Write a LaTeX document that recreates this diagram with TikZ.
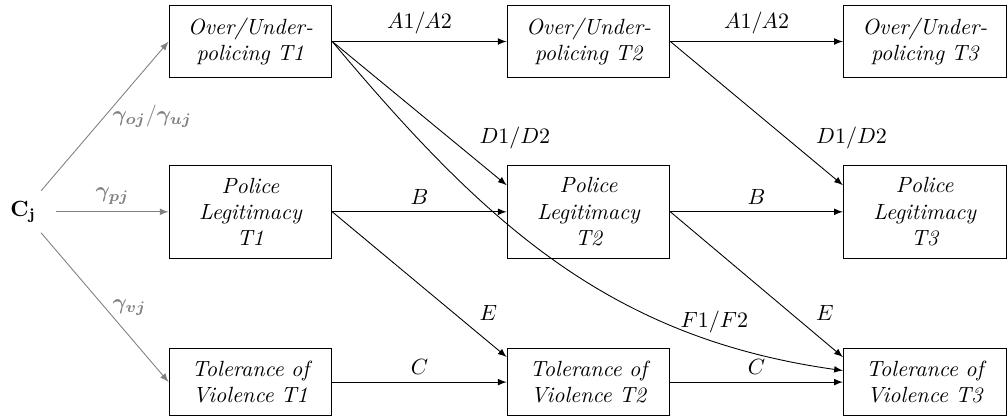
\documentclass[tikz,border=0pt]{standalone}
\usepackage{amsmath}
\usepackage{bm}
\usepackage{tikz}

\tikzset{
  box/.style={draw, align=center, text width=2.2cm, inner sep=2mm, font=\itshape},
  ctrl/.style={->, gray},
  ctrllabel/.style={text=gray},
}

\begin{document}
\begin{tikzpicture}[>=latex]
    \useasboundingbox (0, 0.663) rectangle (16.10, -6.0);

    % controls
    \node[inner xsep=9pt, inner ysep=4.5pt](cj) at (0.37, -2.72){$\mathbf{C_j}$};

    % over/under-policing
    \node[box](o1) at (4.0, 0){Over/Under-\\policing T1};
    \node[box](o2) at (9.4, 0){Over/Under-\\policing T2};
    \node[box](o3) at (14.77, 0){Over/Under-\\policing T3};

    % police legitimacy
    \node[box](p1) at (4.0, -2.72){Police\\Legitimacy\\T1};
    \node[box](p2) at (9.4, -2.72){Police\\Legitimacy\\T2};
    \node[box](p3) at (14.77, -2.72){Police\\Legitimacy\\T3};

    % tolerance of violence
    \node[box](v1) at (4.0, -5.44){Tolerance of\\Violence T1};
    \node[box](v2) at (9.4, -5.44){Tolerance of\\Violence T2};
    \node[box](v3) at (14.77, -5.44){Tolerance of\\Violence T3};

    % gamma paths
    \draw [ctrl] (cj) -- (o1.west)
      node[midway, right, ctrllabel]{$\bm{\gamma_{oj}}/\bm{\gamma_{uj}}$};
    \draw [ctrl] (cj) -- (p1.west)
      node[midway, above, ctrllabel]{$\bm{\gamma_{pj}}$};
    \draw [ctrl] (cj) -- (v1.west)
      node[midway, right, ctrllabel]{$\bm{\gamma_{vj}}$};

    % A
    \draw [->] (o1.east) -- (o2.west) node[midway, above]{$A1/A2$};
    \draw [->] (o2.east) -- (o3.west) node[midway, above]{$A1/A2$};

    % B
    \draw [->] (p1.east) -- (p2.west) node[midway, above]{$B$};
    \draw [->] (p2.east) -- (p3.west) node[midway, above]{$B$};

    % C
    \draw [->] (v1.east) -- (v2.west) node[midway, above]{$C$};
    \draw [->] (v2.east) -- (v3.west) node[midway, above]{$C$};

    % D
    \draw [->] (o1.east) -- (p2.162) node[pos=0.8, above right]{$D1/D2$};
    \draw [->] (o2.east) -- (p3.162) node[pos=0.8, above right]{$D1/D2$};

    % E
    \draw [->] (p1.east) -- (v2.163) node[pos=0.8, above right]{$E$};
    \draw [->] (p2.east) -- (v3.163) node[pos=0.8, above right]{$E$};

    % F
    \draw [->] (o1.east) to[out=-50, in=172]
      node[pos=0.8, above]{$F1/F2$} (v3.172);
\end{tikzpicture}
\end{document}
